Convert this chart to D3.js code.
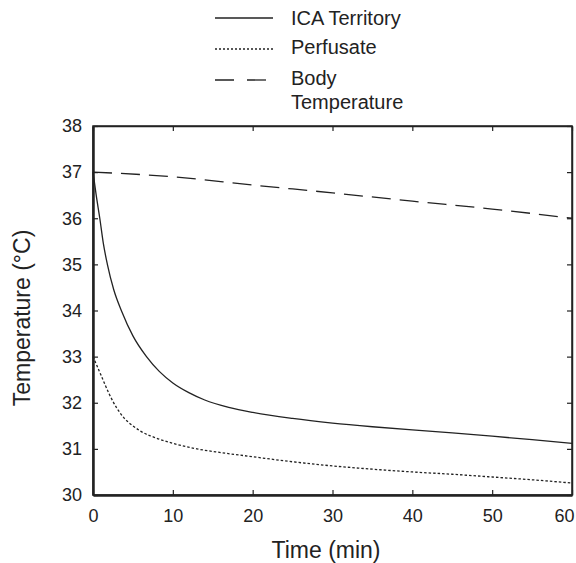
<!DOCTYPE html>
<html>
<head>
<meta charset="utf-8">
<script src="https://cdn.jsdelivr.net/npm/d3@7"></script>
<style>
  body { margin: 0; background: #fff; }
  svg text { font-family: "Liberation Sans", Arial, Helvetica, sans-serif; fill: #222; }
</style>
</head>
<body>
<div id="chart"></div>
<script>
// data (time in min, temperature in °C)
const icaTime = [0, 0.4, 0.85, 1.3, 1.8, 2.6, 3.6, 5, 6.7, 8.3, 10, 12, 14, 17, 20, 25, 30, 35, 40, 45, 50, 55, 60];
const icaTemp = [37, 36.5, 36.0, 35.45, 35.0, 34.45, 33.98, 33.45, 33.0, 32.68, 32.43, 32.22, 32.06, 31.9, 31.79, 31.66, 31.56, 31.48, 31.41, 31.345, 31.275, 31.2, 31.12];

const perfTime = [0, 0.5, 1, 2, 3, 4, 5, 6, 8, 10, 13, 16, 20, 25, 30, 35, 40, 45, 50, 55, 60];
const perfTemp = [33.0, 32.8, 32.6, 32.2, 31.88, 31.65, 31.5, 31.38, 31.23, 31.12, 31.0, 30.92, 30.83, 30.72, 30.63, 30.56, 30.5, 30.45, 30.39, 30.33, 30.26];

const bodyTime = [0, 10, 20, 30, 40, 50, 60];
const bodyTemp = [37, 36.9, 36.72, 36.55, 36.37, 36.2, 36.0];

const xTicks = [0, 10, 20, 30, 40, 50, 60];
const yTicks = [30, 31, 32, 33, 34, 35, 36, 37, 38];

const legendNames = [["ICA Territory"], ["Perfusate"], ["Body", "Temperature"]];

// tamanho
const W = 576, H = 563;
const margin = { top: 126, right: 4, bottom: 68, left: 93 };
const width = W - margin.left - margin.right;
const height = H - margin.top - margin.bottom;

const svg = d3.select("#chart").append("svg")
    .attr("width", W)
    .attr("height", H);

const g = svg.append("g")
    .attr("transform", `translate(${margin.left},${margin.top})`);

const x = d3.scaleLinear().domain([0, 60]).range([0, width]);
const y = d3.scaleLinear().domain([30, 38]).range([height, 0]);

// frame: top/right thinner
g.append("rect")
    .attr("width", width).attr("height", height)
    .attr("fill", "none").attr("stroke", "#222").attr("stroke-width", 1.5);

// axes with inward ticks
const xAxis = g.append("g")
    .attr("transform", `translate(0,${height})`)
    .call(d3.axisBottom(x).tickValues(xTicks).tickSizeInner(-5).tickSizeOuter(0).tickPadding(14));
const yAxis = g.append("g")
    .call(d3.axisLeft(y).tickValues(yTicks).tickSizeInner(-5).tickSizeOuter(0).tickPadding(11));
g.append("g")
    .attr("transform", `translate(${width},0)`)
    .call(d3.axisRight(y).tickValues(yTicks).tickSizeInner(-5).tickSizeOuter(0).tickFormat(""));
g.append("g")
    .call(d3.axisTop(x).tickValues(xTicks).tickSizeInner(-5).tickSizeOuter(0).tickFormat(""));

g.selectAll(".domain").attr("stroke", "#222").attr("stroke-width", 1.5);
xAxis.select(".domain").attr("stroke-width", 2.5);
yAxis.select(".domain").attr("stroke-width", 2.5);
g.selectAll(".tick line").attr("stroke", "#222").attr("stroke-width", 1.2);
g.selectAll(".tick text").style("font-size", "18px").attr("fill", "#222");

// last x label kept inside the picture edge
xAxis.selectAll(".tick text")
    .filter(d => d === 60)
    .attr("text-anchor", "end")
    .attr("dx", "2px");

// lines
const line = d3.line()
    .x(d => x(d[0]))
    .y(d => y(d[1]))
    .curve(d3.curveMonotoneX);

const series = [
    { t: icaTime, v: icaTemp, dash: null },
    { t: perfTime, v: perfTemp, dash: "2.5,2" },
    { t: bodyTime, v: bodyTemp, dash: "19,9" }
];

series.forEach(s => {
    g.append("path")
        .datum(s.t.map((t, i) => [t, s.v[i]]))
        .attr("fill", "none")
        .attr("stroke", "#222")
        .attr("stroke-width", 1.3)
        .attr("stroke-dasharray", s.dash)
        .attr("d", line);
});

// axis titles
svg.append("text")
    .attr("x", 326).attr("y", 558)
    .attr("text-anchor", "middle")
    .style("font-size", "23px")
    .text("Time (min)");

svg.append("text")
    .attr("transform", `translate(30,${318}) rotate(-90)`)
    .attr("text-anchor", "middle")
    .style("font-size", "23px")
    .text("Temperature (°C)");

// legenda
const legY = [18, 47, 78];
const legDash = [null, "2,2", "19,13"];
const leg = svg.append("g");
legendNames.forEach((names, i) => {
    leg.append("line")
        .attr("x1", 215).attr("x2", 273)
        .attr("y1", legY[i] + (i === 0 ? 0 : 2)).attr("y2", legY[i] + (i === 0 ? 0 : 2))
        .attr("stroke", "#222").attr("stroke-width", 1.3)
        .attr("stroke-dasharray", legDash[i]);
    names.forEach((n, j) => {
        leg.append("text")
            .attr("x", 291)
            .attr("y", legY[i] + j * 24)
            .attr("dy", "0.35em")
            .style("font-size", "20px")
            .text(n);
    });
});
</script>
</body>
</html>
